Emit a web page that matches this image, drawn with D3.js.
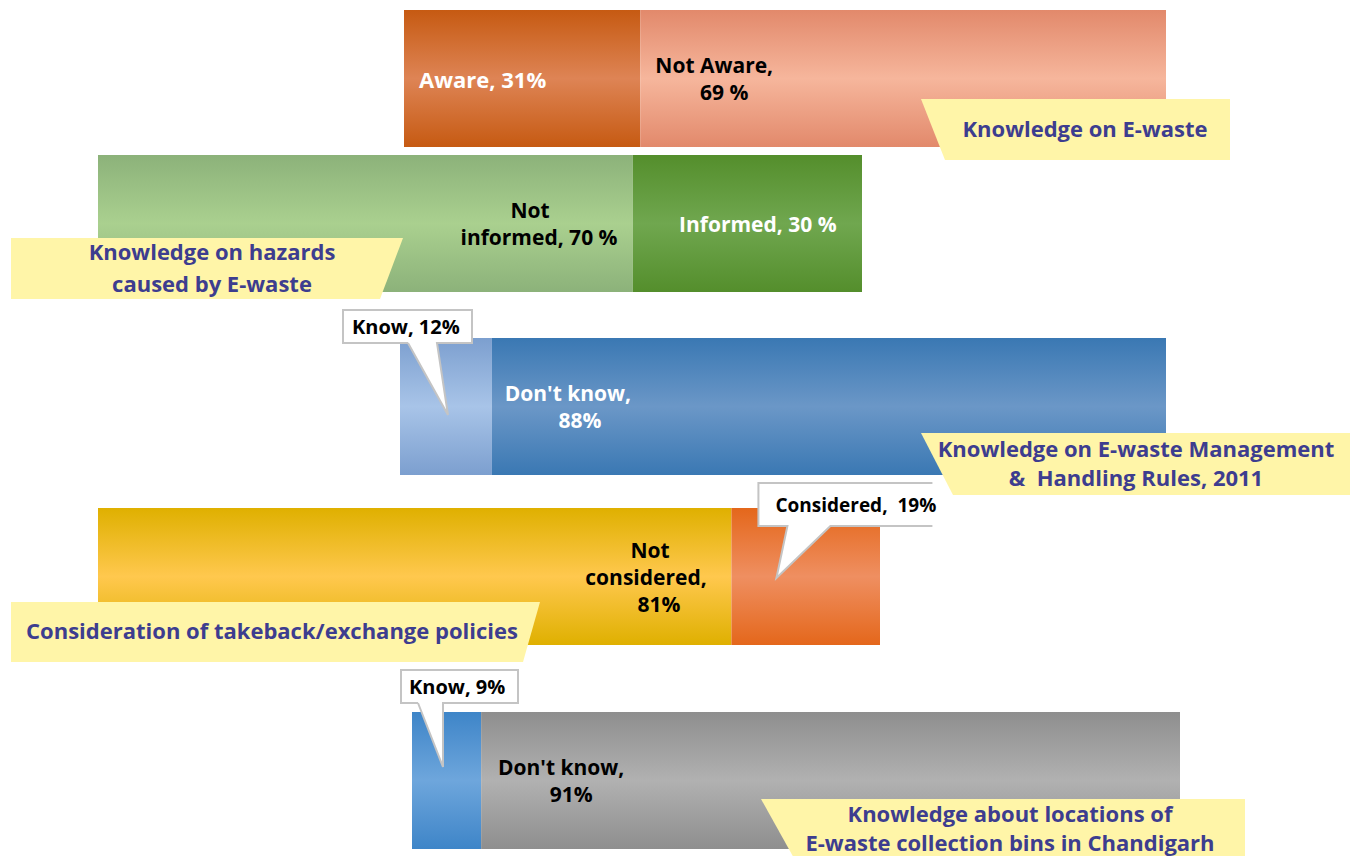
<!DOCTYPE html>
<html>
<head>
<meta charset="utf-8">
<script src="https://cdn.jsdelivr.net/npm/d3@7"></script>
<style>
  body { margin: 0; background: #fff; }
  svg text { font-family: 'Open Sans', 'DejaVu Sans', sans-serif; font-weight: 700; }
</style>
</head>
<body>
<svg id="chart"></svg>
<script>
let w = 1350;
let h = 856;

// survey questions (label lines as printed)
const topicLines = [
    ['Knowledge on E-waste'],
    ['Knowledge on hazards', 'caused by E-waste'],
    ['Knowledge on E-waste Management', '&  Handling Rules, 2011'],
    ['Consideration of takeback/exchange policies'],
    ['Knowledge about locations of', 'E-waste collection bins in Chandigarh']
];

// left segment of each bar
const firstCat = ['Aware', 'Not informed', 'Know', 'Not considered', 'Know'];
const firstVal = [31, 70, 12, 81, 9];

// right segment of each bar
const secondCat = ['Not Aware', 'Informed', "Don't know", 'Considered', "Don't know"];
const secondVal = [69, 30, 88, 19, 91];

// layout: where each bar sits on the page
const barH = 137;
const barX = [[404, 1166], [98, 862], [400, 1166], [98, 880], [412, 1180]];
const barY = [10, 155, 338, 508, 712];

// edge / middle colours of each segment gradient
const segColors = [
    [['#C65A12', '#DE8455'], ['#E2896B', '#F6B69C']],
    [['#8CB27A', '#AAD08F'], ['#548E2C', '#70A74F']],
    [['#7C9FCF', '#A8C4E8'], ['#3A78B3', '#6B97C7']],
    [['#DFB000', '#FFC84E'], ['#E4671B', '#EF8F61']],
    [['#3E85C8', '#6EA6DC'], ['#8E8E8E', '#B1B1B1']]
];

// how each segment label is drawn
// brk: w = break after first word, c = break after comma
// shift: extra x nudge for the lines after the first one
const segStyle = [
    [{dx: 15, anchor: 'start', fill: '#fff', brk: '', pct: '', fs: 22},
     {dx: 74, anchor: 'middle', fill: '#000', brk: 'c', pct: ' ', shift: 10}],
    [{dx: 432, anchor: 'middle', fill: '#000', brk: 'w', pct: ' ', shift: 9},
     {dx: 125, anchor: 'middle', fill: '#fff', brk: '', pct: ' '}],
    [{bubble: {bx: -57, by: -28, bw: 129, bh: 33, base: [65, 94], tip: [48, 77], tx: 9, fs: 20}, gap: ' ', pct: ''},
     {dx: 76, anchor: 'middle', fill: '#fff', brk: 'c', pct: '', shift: 12}],
    [{dx: 552, anchor: 'middle', fill: '#000', brk: 'wc', pct: '', shift: [-4, 9]},
     {bubble: {bx: 27, by: -25, bw: 174, bh: 43, base: [29, 72], tip: [45, 70], tx: 17, fs: 19, open: true}, gap: '  ', pct: ''}],
    [{bubble: {bx: -11, by: -42, bw: 117, bh: 33, base: [17, 42], tip: [31, 55], tx: 8, fs: 20}, gap: ' ', pct: ''},
     {dx: 80, anchor: 'middle', fill: '#000', brk: 'c', pct: '', shift: 10}]
];

// yellow question tags
const tagBox = [
    {x0: 921, x1: 1230, y0: 99, y1: 160, slant: 24, side: 'left', cx: 1085, lh: 30},
    {x0: 11, x1: 403, y0: 238, y1: 299, slant: 23, side: 'right', cx: 212, lh: 32},
    {x0: 921, x1: 1350, y0: 433, y1: 495, slant: 32, side: 'left', cx: 1136, lh: 29},
    {x0: 11, x1: 540, y0: 602, y1: 662, slant: 17, side: 'right', cx: 272, lh: 30},
    {x0: 761, x1: 1245, y0: 799, y1: 860, slant: 34, side: 'left', cx: 1010, lh: 29}
];

const labelLines = (d, st) => {
    let cat = d.cat;
    let lines = [];
    if (st.brk && st.brk.includes('w')) {
        const k = cat.indexOf(' ');
        lines.push(cat.slice(0, k));
        cat = cat.slice(k + 1);
    }
    const num = d.val + st.pct + '%';
    if (st.brk && st.brk.includes('c')) {
        lines.push(cat + ',');
        lines.push(num);
    } else {
        lines.push(cat + ',' + (st.gap || ' ') + num);
    }
    return lines;
};

const chart = d3.select('#chart')
    .attr('width', w)
    .attr('height', h);

chart.append('rect')
    .attr('width', w)
    .attr('height', h)
    .attr('fill', '#fff');

const defs = chart.append('defs');

const rows = firstCat.map((c, i) => {
    const x = d3.scaleLinear().domain([0, 100]).range(barX[i]);
    return {
        i: i,
        x: x,
        segs: [
            {i: i, j: 0, cat: firstCat[i], val: firstVal[i], start: 0},
            {i: i, j: 1, cat: secondCat[i], val: secondVal[i], start: firstVal[i]}
        ]
    };
});

// gradients
rows.forEach(r => {
    r.segs.forEach(s => {
        const [edge, mid] = segColors[s.i][s.j];
        const g = defs.append('linearGradient')
            .attr('id', `grad${s.i}_${s.j}`)
            .attr('x1', 0).attr('x2', 0)
            .attr('y1', 0).attr('y2', 1);
        g.append('stop').attr('offset', '0%').attr('stop-color', edge);
        g.append('stop').attr('offset', '50%').attr('stop-color', mid);
        g.append('stop').attr('offset', '100%').attr('stop-color', edge);
    });
});

const rowG = chart.selectAll('g.row')
    .data(rows)
    .join('g')
    .attr('class', 'row');

rowG.selectAll('rect.seg')
    .data(r => r.segs)
    .join('rect')
    .attr('class', 'seg')
    .attr('x', s => rows[s.i].x(s.start))
    .attr('width', s => rows[s.i].x(s.start + s.val) - rows[s.i].x(s.start))
    .attr('y', s => barY[s.i])
    .attr('height', barH)
    .attr('fill', s => `url(#grad${s.i}_${s.j})`);

// labels inside the bars
rows.forEach(r => {
    r.segs.forEach(s => {
        const st = segStyle[s.i][s.j];
        if (st.bubble) return;
        const lines = labelLines(s, st);
        const lh = 27;
        const cy = barY[s.i] + barH / 2;
        const x0 = r.x(s.start) + st.dx;
        const t = chart.append('text')
            .attr('y', cy - (lines.length - 1) * lh / 2)
            .attr('text-anchor', st.anchor)
            .attr('dominant-baseline', 'central')
            .attr('font-size', st.fs || 21)
            .attr('fill', st.fill);
        lines.forEach((l, k) => {
            let nudge = 0;
            if (k > 0 && st.shift !== undefined) {
                nudge = Array.isArray(st.shift) ? st.shift[k - 1] : st.shift;
            }
            t.append('tspan')
                .attr('x', x0 + nudge)
                .attr('dy', k === 0 ? 0 : lh)
                .text(l);
        });
    });
});

// question tags
tagBox.forEach((b, i) => {
    let pts;
    if (b.side === 'left') {
        pts = [[b.x0, b.y0], [b.x1, b.y0], [b.x1, b.y1], [b.x0 + b.slant, b.y1]];
    } else {
        pts = [[b.x0, b.y0], [b.x1, b.y0], [b.x1 - b.slant, b.y1], [b.x0, b.y1]];
    }
    chart.append('path')
        .attr('d', d3.line()(pts) + 'Z')
        .attr('fill', '#FFF5A8');

    const lines = topicLines[i];
    const cy = (b.y0 + b.y1) / 2 - 2;
    const t = chart.append('text')
        .attr('text-anchor', 'middle')
        .attr('dominant-baseline', 'central')
        .attr('font-size', 22)
        .attr('fill', '#3D3D8F')
        .attr('y', cy - (lines.length - 1) * b.lh / 2);
    lines.forEach((l, k) => {
        t.append('tspan')
            .attr('x', b.cx)
            .attr('dy', k === 0 ? 0 : b.lh)
            .style('white-space', 'pre')
            .text(l);
    });
});

// callout bubbles for the thin segments
rows.forEach(r => {
    r.segs.forEach(s => {
        const st = segStyle[s.i][s.j];
        if (!st.bubble) return;
        const b = st.bubble;
        const sx = r.x(s.start);
        const bx = sx + b.bx;
        const by = barY[s.i] + b.by;
        const tip = [sx + b.tip[0], barY[s.i] + b.tip[1]];
        const bottom = by + b.bh;
        const outline = [
            [bx + b.base[0], bottom], tip, [bx + b.base[1], bottom],
            [bx + b.bw, bottom], [bx + b.bw, by], [bx, by], [bx, bottom],
            [bx + b.base[0], bottom]
        ];
        chart.append('path')
            .attr('d', d3.line()(outline) + 'Z')
            .attr('fill', '#fff');
        // border (right side left open when the bubble is cut off)
        const border = b.open
            ? [[bx + b.bw, by], [bx, by], [bx, bottom], [bx + b.base[0], bottom], tip, [bx + b.base[1], bottom], [bx + b.bw, bottom]]
            : outline;
        chart.append('path')
            .attr('d', d3.line()(border))
            .attr('fill', 'none')
            .attr('stroke', '#C4C4C4')
            .attr('stroke-width', 2);
        chart.append('text')
            .attr('x', bx + b.tx)
            .attr('y', by + b.bh / 2)
            .attr('dominant-baseline', 'central')
            .attr('font-size', b.fs)
            .attr('fill', '#000')
            .style('white-space', 'pre')
            .text(labelLines(s, st)[0]);
    });
});
</script>
</body>
</html>
